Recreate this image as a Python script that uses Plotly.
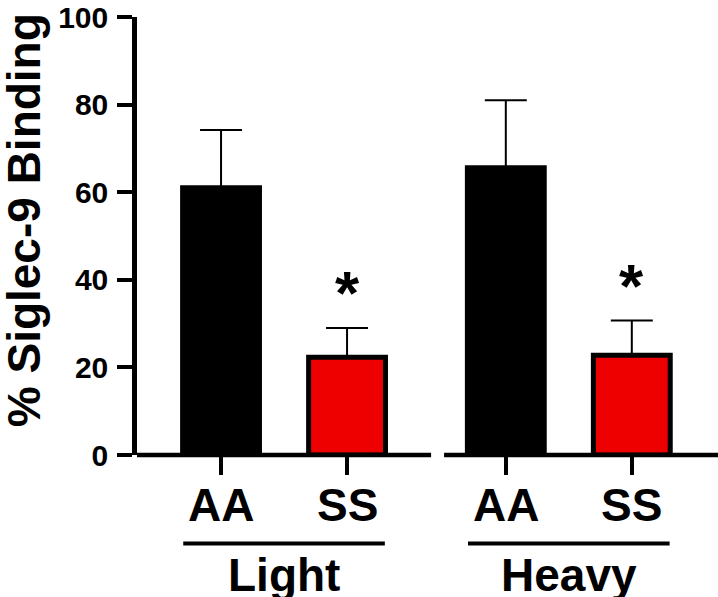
import plotly.graph_objects as go

# ---- data ----
groups = ["Light", "Heavy"]
genotypes = ["AA", "SS"]
means = {"Light": [61.0, 22.3], "Heavy": [65.6, 22.8]}
sems = {"Light": [13.2, 6.7], "Heavy": [15.4, 7.9]}
significant = {"Light": [False, True], "Heavy": [False, True]}
y_ticks = [0, 20, 40, 60, 80, 100]
y_title = "% Siglec-9 Binding"

# ---- style ----
FONT = "Liberation Sans, Arial, Helvetica, sans-serif"
colors = {"AA": "black", "SS": "#EE0000"}
group_step = 2.26          # distance between first bars of groups (in bar units)
bar_w = 0.61
x_range = [-0.667, 3.944]
axis_break = (1.667, 1.77)
AX_W = 4.5

xs, ys, es, cs, labels, stars = [], [], [], [], [], []
for gi, g in enumerate(groups):
    for bi, gt in enumerate(genotypes):
        xs.append(gi * group_step + bi)
        ys.append(means[g][bi])
        es.append(sems[g][bi])
        cs.append(colors[gt])
        labels.append(gt)
        stars.append(significant[g][bi])

fig = go.Figure()
fig.add_trace(go.Bar(
    x=xs, y=ys, width=bar_w,
    marker=dict(color=cs, line=dict(color="black", width=5)),
    error_y=dict(type="data", array=es, arrayminus=[0] * len(es), symmetric=False,
                 color="black", thickness=2, width=21),
    showlegend=False, hoverinfo="skip",
))

annotations = []
# genotype labels
for x, lab in zip(xs, labels):
    annotations.append(dict(x=x, xref="x", y=0, yref="paper", text=lab, showarrow=False,
                            yanchor="middle", yshift=-50,
                            font=dict(family=FONT, size=46, color="black", weight="bold")))
# significance stars
for x, y, e, s in zip(xs, ys, es, stars):
    if s:
        annotations.append(dict(x=x, xref="x", y=y + e, yref="y", text="*", showarrow=False,
                                yanchor="middle", yshift=35,
                                font=dict(family=FONT, size=62, color="black", weight="bold")))
# group labels + underlines
shapes = []
for gi, g in enumerate(groups):
    c = gi * group_step + (len(genotypes) - 1) / 2
    annotations.append(dict(x=c, xref="x", y=0, yref="paper", text=g, showarrow=False,
                            yanchor="middle", yshift=-120,
                            font=dict(family=FONT, size=46, color="black", weight="bold")))
    shapes.append(dict(type="line", xref="x", yref="paper", x0=c - 0.8, x1=c + 0.8,
                       y0=-89 / 440, y1=-89 / 440, line=dict(color="black", width=4)))
# y-axis title
annotations.append(dict(x=0, xref="paper", y=0.536, yref="paper", text=y_title, showarrow=False,
                        textangle=-90, xanchor="center", yanchor="middle", xshift=-113,
                        font=dict(family=FONT, size=46, color="black", weight="bold")))
# broken x axis
shapes.append(dict(type="line", xref="x", yref="paper", x0=x_range[0], x1=axis_break[0],
                   y0=0, y1=0, line=dict(color="black", width=AX_W)))
shapes.append(dict(type="line", xref="x", yref="paper", x0=axis_break[1], x1=x_range[1],
                   y0=0, y1=0, line=dict(color="black", width=AX_W)))

fig.update_layout(
    width=718, height=597,
    margin=dict(l=137, r=0, t=15, b=142),
    plot_bgcolor="white", paper_bgcolor="white",
    font=dict(family=FONT, color="black"),
    annotations=annotations, shapes=shapes,
    xaxis=dict(range=x_range, showgrid=False, zeroline=False, showline=False,
               tickmode="array", tickvals=xs, ticktext=[""] * len(xs), showticklabels=False,
               ticks="outside", ticklen=19, tickwidth=3.5, tickcolor="black"),
    yaxis=dict(range=[0, 100], tickmode="array", tickvals=y_ticks, showgrid=False, zeroline=False,
               showline=True, linewidth=AX_W, linecolor="black",
               ticks="outside", ticklen=15, tickwidth=3.5, tickcolor="black",
               ticklabeloverflow="allow", ticklabelstandoff=3,
               tickfont=dict(family=FONT, size=30, color="black", weight="bold")),
)

fig.write_html("out.html", config={"displayModeBar": False},
               post_script="document.body.style.margin='0';document.body.style.overflow='hidden';")
